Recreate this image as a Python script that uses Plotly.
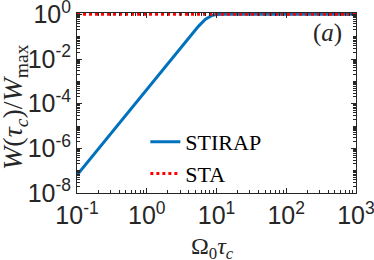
import plotly.graph_objects as go

# Data
omega_tau = [0.1, 0.316, 1.0, 2.0, 2.57, 3.16, 4.23, 5.5, 6.95, 8.0, 8.75, 10.0, 12.6, 100.0, 1000.0]
w_stirap = [6.3e-8, 5.0e-6, 4.0e-4, 5.5e-3, 1.45e-2, 3.16e-2, 0.10, 0.29, 0.60, 0.80, 0.91, 0.977, 1.0, 1.0, 1.0]
sta_x = [0.1, 1.0, 10.0, 100.0, 1000.0]
w_sta = [1.0, 1.0, 1.0, 1.0, 1.0]

x_tickvals = [0.1, 1, 10, 100, 1000]
x_ticktext = ["10<sup>-1</sup>", "10<sup>0</sup>", "10<sup>1</sup>", "10<sup>2</sup>", "10<sup>3</sup>"]
y_tickvals = [1e-8, 1e-6, 1e-4, 1e-2, 1]
y_ticktext = ["10<sup>-8</sup>", "10<sup>-6</sup>", "10<sup>-4</sup>", "10<sup>-2</sup>", "10<sup>0</sup>"]

x_minor = [m * 10 ** e for e in range(-1, 3) for m in range(2, 10)]
y_minor = [m * 10 ** e for e in range(-8, 0) for m in range(1, 10) if not (m == 1 and e % 2 == 0)]

SERIF = "Liberation Serif"
SANS = "Liberation Sans"
INK = "#262626"

fig = go.Figure()
fig.add_trace(go.Scatter(x=omega_tau, y=w_stirap, mode="lines", name="STIRAP",
                         line=dict(color="#0072BD", width=3)))
fig.add_trace(go.Scatter(x=sta_x, y=w_sta, mode="lines", name="STA",
                         line=dict(color="#FF0000", width=3, dash="dot")))

axis_common = dict(showline=True, linecolor=INK, linewidth=1, mirror="allticks",
                   ticks="inside", ticklen=5, tickcolor=INK, showgrid=False, zeroline=False,
                   automargin=False, ticklabeloverflow="allow",
                   tickfont=dict(family=SANS, size=25, color=INK))

fig.update_xaxes(type="log", range=[-1.0005, 3.0005], tickvals=x_tickvals, ticktext=x_ticktext,
                 minor=dict(tickvals=x_minor, ticks="inside", ticklen=3, tickcolor=INK),
                 **axis_common)
fig.update_yaxes(type="log", range=[-8, 0.06], tickvals=y_tickvals, ticktext=y_ticktext,
                 minor=dict(tickvals=y_minor, ticks="inside", ticklen=3, tickcolor=INK),
                 **axis_common)

# axis titles and panel label
fig.add_annotation(x=(212 - 77) / 279, y=(193 - 248) / 180, xref="paper", yref="paper",
                   text="Ω<sub>0</sub><i>τ</i><sub><i>c</i></sub>", showarrow=False,
                   xanchor="center", yanchor="middle",
                   font=dict(family=SERIF, size=24, color=INK))
fig.add_annotation(x=(15 - 77) / 279, y=(193 - 107) / 180, xref="paper", yref="paper",
                   text="<i>W</i>(<i>τ</i><sub><i>c</i></sub>)/<i>W</i><sub>max</sub>", showarrow=False,
                   textangle=-90, xanchor="center", yanchor="middle",
                   font=dict(family=SERIF, size=28, color=INK))
fig.add_annotation(x=(327 - 77) / 279, y=(193 - 33) / 180, xref="paper", yref="paper",
                   text="(<i>a</i>)", showarrow=False, xanchor="center", yanchor="middle",
                   font=dict(family=SERIF, size=25, color=INK))

fig.update_layout(width=374, height=260, margin=dict(l=77, r=18, t=13, b=67, autoexpand=False),
                  paper_bgcolor="white", plot_bgcolor="white", showlegend=True,
                  legend=dict(x=0.245, y=0.40, xanchor="left", yanchor="top", bgcolor="rgba(0,0,0,0)",
                              font=dict(family=SERIF, size=22, color="black"),
                              tracegroupgap=0))

fig.write_html("out.html", config={"displayModeBar": False},
               post_script="document.body.style.margin='0px';document.body.style.overflow='hidden';")
